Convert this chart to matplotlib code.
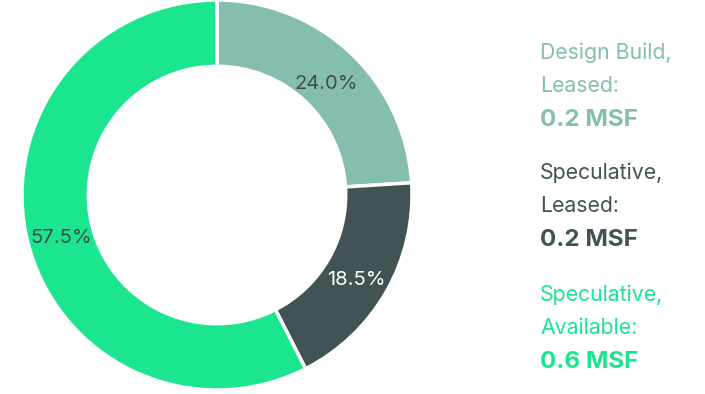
import matplotlib
matplotlib.use("Agg")
import matplotlib.pyplot as plt

# Space breakdown by status
labels = ["Design Build,\nLeased:", "Speculative,\nLeased:", "Speculative,\nAvailable:"]
shares = [24.0, 18.5, 57.5]
msf = ["0.2 MSF", "0.2 MSF", "0.6 MSF"]
colors = ["#85BEAF", "#425356", "#1BE58F"]
pct_colors = ["#3E4E50", "#FFFFFF", "#3E4E50"]

plt.rcParams["font.family"] = ["Inter", "DejaVu Sans"]

fig = plt.figure(figsize=(7.05, 3.94), dpi=100)
ax = fig.add_axes([22 / 705, 4 / 394, 390 / 705, 390 / 394])

wedges, texts, autotexts = ax.pie(
    shares,
    colors=colors,
    startangle=90,
    counterclock=False,
    autopct="%.1f%%",
    pctdistance=0.82,
    wedgeprops=dict(width=0.34, edgecolor="white", linewidth=2.5),
    textprops=dict(fontsize=14.5),
)
for t, c in zip(autotexts, pct_colors):
    t.set_color(c)
    # nudge labels down a little so the glyphs sit on the ring centre line
    x, y = t.get_position()
    t.set_position((x, y - 0.03))
ax.set_xlim(-1.0, 1.0)
ax.set_ylim(-1.0, 1.0)
ax.set_aspect("equal")

# Legend text blocks on the right
tops = [53, 173, 295]
for lab, val, col, y in zip(labels, msf, colors, tops):
    line1, line2 = lab.split("\n")
    fig.text(540 / 705, 1 - y / 394, line1, color=col, fontsize=15.3, va="center", ha="left")
    fig.text(540 / 705, 1 - (y + 33) / 394, line2, color=col, fontsize=15.3, va="center", ha="left")
    fig.text(540 / 705, 1 - (y + 67) / 394, val, color=col, fontsize=17.4, fontweight="bold",
             va="center", ha="left")

fig.savefig("out.png", dpi=100)
